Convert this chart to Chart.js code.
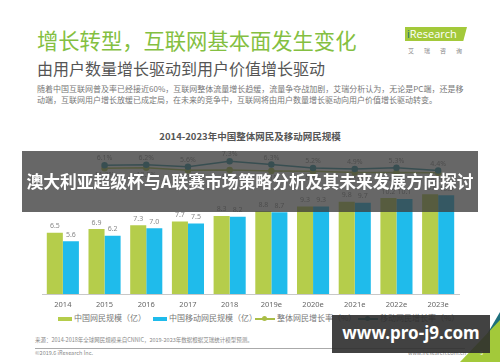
<!DOCTYPE html>
<html>
<head>
<meta charset="utf-8">
<script src="https://cdn.jsdelivr.net/npm/chart.js@4.4.1/dist/chart.umd.min.js"></script>
<style>
  body { margin: 0; width: 500px; height: 362px; overflow: hidden; background: #fff; position: relative;
         font-family: "Noto Sans CJK SC", "Noto Sans", sans-serif; }
  .abs { position: absolute; white-space: nowrap; }
  #title { left: 37px; top: 27px; font-size: 21.3px; color: #84bf41; line-height: 26px; }
  #subtitle { left: 37px; top: 57px; font-size: 16px; color: #555; line-height: 22px; }
  .body { left: 37px; font-size: 8px; color: #777; line-height: 11px; }
  #logo { left: 405px; top: 27px; width: 62px; height: 14px; background: #a3c93a;
          clip-path: polygon(0 0, 100% 0, 94% 100%, 0 100%); }
  #logo span { position: absolute; left: 2px; top: -1px; font: 11px "Open Sans", sans-serif; color: #fff; }
  #logo b { color: #1a6f80; font-weight: normal; }
  #logocn { left: 408px; top: 46px; font-size: 6px; color: #888; letter-spacing: 10px; }
  #ctitle { left: 0; width: 500px; text-align: center; top: 129px; font-size: 9.5px; font-weight: bold; color: #555; }
  #chartbox { position: absolute; left: 0; top: 138px; width: 500px; height: 173px; }
  #banner { left: 22px; top: 151px; width: 456px; height: 61px; background: rgba(60,60,60,0.78);
            color: #fff; font-size: 16.8px; font-weight: bold; text-align: center; line-height: 61px; z-index: 5; }
  .leg { top: 313px; font-size: 8px; color: #777; line-height: 10px; }
  .sw { display: inline-block; width: 14px; height: 4px; vertical-align: middle; margin-right: 2px; }
  .ln { display: inline-block; position: relative; width: 20px; height: 1.5px; vertical-align: middle; margin-right: 2px; }
  .ln i { position: absolute; left: 7px; top: -2px; width: 5px; height: 5px; border-radius: 50%; }
  .foot { font-size: 5.5px; color: #888; line-height: 7px; }
  #rule { left: 35px; top: 348px; width: 430px; height: 1px; background: #aaa; }
  #tri { left: 460px; top: 320px; width: 40px; height: 42px; background: #a3c93a;
         clip-path: polygon(100% 0, 100% 100%, 0 100%); }
  #tri2 { left: 486px; top: 312px; width: 14px; height: 24px; background: #1d6f7c;
          clip-path: polygon(100% 0, 100% 60%, 0 100%); }
  #wm { left: 332px; top: 315px; width: 158px; height: 38px; background: rgba(45,45,45,0.9); color: #fff;
        font: bold 17px "Noto Sans", sans-serif; text-align: center; line-height: 36px; z-index: 6; }
</style>
</head>
<body>
<div class="abs" id="title">增长转型，互联网基本面发生变化</div>
<div class="abs" id="subtitle">由用户数量增长驱动到用户价值增长驱动</div>
<div class="abs body" style="top:83px">随着中国互联网普及率已经接近60%，互联网整体流量增长趋缓，流量争夺战加剧，艾瑞分析认为，无论是PC端，还是移</div>
<div class="abs body" style="top:94px">动端，互联网用户增长放缓已成定局，在未来的竞争中，互联网将由用户数量增长驱动向用户价值增长驱动转变。</div>
<div class="abs" id="logo"><span><b>i</b>Research</span></div>
<div class="abs" id="logocn">艾瑞咨询</div>
<div class="abs" id="ctitle">2014-2023年中国整体网民及移动网民规模</div>
<div id="chartbox"><canvas id="chart"></canvas></div>
<div class="abs" id="banner">澳大利亚超级杯与A联赛市场策略分析及其未来发展方向探讨</div>

<div class="abs leg" style="left:58px"><span class="sw" style="background:#b5cd4b"></span>中国网民规模（亿）</div>
<div class="abs leg" style="left:153px"><span class="sw" style="background:#1fbbeb"></span>中国移动网民规模（亿）</div>
<div class="abs leg" style="left:255px"><span class="ln" style="background:#a9bd45"><i style="background:#a9bd45"></i></span>整体网民增长率（%）</div>
<div class="abs leg" style="left:358px"><span class="ln" style="background:#2b8e9c"><i style="background:#2b8e9c"></i></span>移动网民增长率（%）</div>

<div class="abs foot" style="left:35px;top:337px">来源：2014-2018年全球网民规模来自CNNIC，2019-2023年数据根据艾瑞统计模型预测。</div>
<div class="abs" id="rule"></div>
<div class="abs foot" style="left:35px;top:350px">©2019.6 iResearch Inc.</div>
<div class="abs foot" style="left:408px;top:350px">www.iresearch.com.cn</div>
<div class="abs" id="tri2"></div>
<div class="abs" id="tri"></div>
<div class="abs foot" style="left:480px;top:350px;color:#fff">5</div>
<div class="abs" id="wm">www.pro-j9.com</div>

<script>
const years = ['2014', '2015', '2016', '2017', '2018', '2019e', '2020e', '2021e', '2022e', '2023e'];
const netUsers = [6.5, 6.9, 7.3, 7.7, 8.3, 8.8, 9.3, 9.8, 10.2, 10.6];
const mobileUsers = [5.6, 6.2, 7.0, 7.5, 8.2, 8.7, 9.3, 9.7, 10.1, 10.5];
// upper (teal) line and lower (olive) line, in %
const upperRate = [null, 6.1, 6.2, 5.6, 7.3, 6.3, 5.2, 4.9, 5.3, 4.4];
const lowerRate = [null, 11.3, 12.2, 8.2, 8.5, 7.1, 6.3, 4.5, 4.3, 4.2];

const valueLabels = {
    id: 'valueLabels',
    afterDatasetsDraw(chart) {
        const ctx = chart.ctx
        ctx.save()
        ctx.font = '7px "Noto Sans", sans-serif'
        ctx.fillStyle = '#888'
        ctx.textAlign = 'center'
        chart.data.datasets.forEach((ds, i) => {
            const meta = chart.getDatasetMeta(i)
            meta.data.forEach((el, j) => {
                const v = ds.data[j]
                if (v == null) return
                if (ds.type === 'bar') {
                    ctx.textBaseline = 'bottom'
                    ctx.fillText(v.toFixed(1), el.x, el.y - 3)
                } else {
                    ctx.textBaseline = 'middle'
                    const dy = ds.labelPos === 'above' ? -7 : 7
                    ctx.fillText(v.toFixed(1) + '%', el.x, el.y + dy)
                }
            })
        })
        ctx.restore()
    }
}

const ctx = document.getElementById('chart').getContext('2d')
new Chart(ctx, {
    data: {
        labels: years,
        datasets: [
            {
                type: 'line',
                label: '移动网民增长率（%）',
                data: upperRate,
                yAxisID: 'y2',
                labelPos: 'above',
                borderColor: '#2b8e9c',
                backgroundColor: '#2b8e9c',
                borderWidth: 1.5,
                pointRadius: 2.5,
                order: 0,
            },
            {
                type: 'line',
                label: '整体网民增长率（%）',
                data: lowerRate,
                yAxisID: 'y3',
                labelPos: 'below',
                borderColor: '#a9bd45',
                backgroundColor: '#a9bd45',
                borderWidth: 1.5,
                pointRadius: 2.5,
                order: 0,
            },
            {
                type: 'bar',
                label: '中国网民规模（亿）',
                data: netUsers,
                yAxisID: 'y',
                backgroundColor: '#b5cd4b',
                categoryPercentage: 0.77,
                barPercentage: 1,
                order: 1,
            },
            {
                type: 'bar',
                label: '中国移动网民规模（亿）',
                data: mobileUsers,
                yAxisID: 'y',
                backgroundColor: '#1fbbeb',
                categoryPercentage: 0.77,
                barPercentage: 1,
                order: 1,
            }
        ]
    },
    options: {
        responsive: true,
        maintainAspectRatio: false,
        animation: false,
        layout: { padding: { left: 42, right: 41, top: 0, bottom: 0 } },
        plugins: { legend: { display: false }, tooltip: { enabled: false } },
        scales: {
            x: {
                grid: { display: false, drawTicks: false },
                border: { display: true, color: '#c8c8c8', width: 1 },
                ticks: { color: '#666', padding: 6, font: { size: 7.5, family: '"Noto Sans", sans-serif' } },
                afterFit: (s) => { s.height = 17 },
            },
            y: { display: false, min: 0, max: 16 },
            y2: { display: false, min: -34.4, max: 12.9 },
            y3: { display: false, min: -197.4, max: 52.6 },
        }
    },
    plugins: [valueLabels]
});
</script>
</body>
</html>
